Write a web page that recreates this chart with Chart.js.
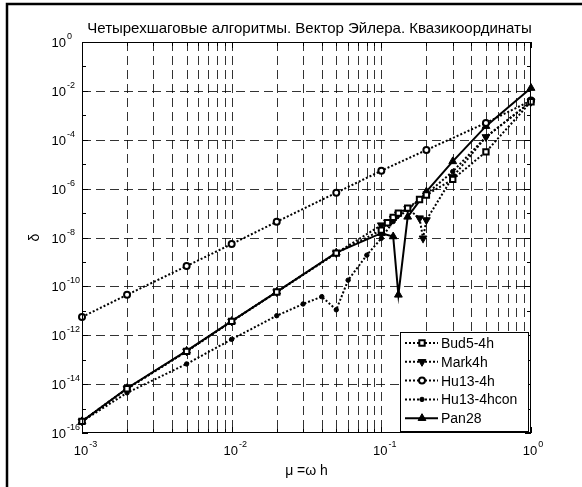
<!DOCTYPE html>
<html>
<head>
<meta charset="utf-8">
<script src="https://cdn.jsdelivr.net/npm/chart.js@4.4.1/dist/chart.umd.min.js"></script>
<style>
  html, body { margin: 0; padding: 0; background: #fff; }
  #wrap { width: 582px; height: 487px; position: relative; }
</style>
</head>
<body>
<div id="wrap"><canvas id="errChart"></canvas></div>
<script>
// ---- labels ----
const TITLE = 'Четырехшаговые алгоритмы. Вектор Эйлера. Квазикоординаты';
const X_TITLE = 'μ =ω h';
const Y_TITLE = 'δ';

// ---- axis ticks ----
const X_MAJOR = [1e-3, 1e-2, 1e-1, 1];
const X_MAJOR_EXP = ['-3', '-2', '-1', '0'];
const X_MINOR = [2e-3, 3e-3, 4e-3, 5e-3, 6e-3, 7e-3, 8e-3, 9e-3,
                 2e-2, 3e-2, 4e-2, 5e-2, 6e-2, 7e-2, 8e-2, 9e-2,
                 0.2, 0.3, 0.4, 0.5, 0.6, 0.7, 0.8, 0.9];
const Y_MAJOR = [1e0, 1e-2, 1e-4, 1e-6, 1e-8, 1e-10, 1e-12, 1e-14, 1e-16];
const Y_MAJOR_EXP = ['0', '-2', '-4', '-6', '-8', '-10', '-12', '-14', '-16'];
const Y_MINOR = [1e-1, 1e-3, 1e-5, 1e-7, 1e-9, 1e-11, 1e-13, 1e-15];

// ---- series ----
const bud_x = [1e-3, 2e-3, 5e-3, 1e-2, 2e-2, 5e-2, 0.1, 0.11, 0.12, 0.13, 0.15, 0.18, 0.2, 0.3, 0.5, 1];
const bud_y = [3e-16, 6.5e-15, 2.2e-13, 3.7e-12, 5.9e-11, 2.3e-9, 2e-8, 4e-8, 6.7e-8, 1e-7, 1.6e-7, 3.6e-7, 5.5e-7, 2.4e-6, 3.2e-5, 3.6e-3];

const mark_x = [1e-3, 2e-3, 5e-3, 1e-2, 2e-2, 5e-2, 0.1, 0.11, 0.12, 0.13, 0.15, 0.18, 0.19, 0.2, 0.3, 0.5, 1];
const mark_y = [3e-16, 6.5e-15, 2.2e-13, 3.7e-12, 5.9e-11, 2.3e-9, 3.2e-8, 4.2e-8, 6e-8, 9e-8, 1.5e-7, 6.2e-8, 9.3e-9, 5.2e-8, 3e-6, 1.3e-4, 3.6e-3];

const hu_x = [1e-3, 2e-3, 5e-3, 1e-2, 2e-2, 5e-2, 0.1, 0.2, 0.5, 1];
const hu_y = [5.6e-12, 4.5e-11, 6.8e-10, 5.4e-9, 4.4e-8, 6.8e-7, 5.4e-6, 3.8e-5, 4.9e-4, 4e-3];

const hucon_x = [1e-3, 2e-3, 5e-3, 1e-2, 2e-2, 0.03, 0.04, 0.05, 0.06, 0.08, 0.1, 0.12, 0.15, 0.2, 0.3, 0.5, 1];
const hucon_y = [3e-16, 4.4e-15, 6.7e-14, 6.8e-13, 6.3e-12, 1.9e-11, 3.8e-11, 1.1e-11, 1.8e-10, 1.9e-9, 9.3e-9, 4.5e-8, 1.4e-7, 6e-7, 5e-6, 1.3e-4, 3.6e-3];

const pan_x = [1e-3, 2e-3, 5e-3, 1e-2, 2e-2, 5e-2, 0.1, 0.12, 0.13, 0.15, 0.2, 0.3, 0.5, 1];
const pan_y = [3e-16, 6.8e-15, 2.3e-13, 3.8e-12, 6e-11, 2.4e-9, 1.5e-8, 1.1e-8, 4.5e-11, 7e-8, 7.5e-7, 1.3e-5, 3.6e-4, 1.3e-2];

const FONT = "'Liberation Sans', Arial, sans-serif";

const zip = (xs, ys) => xs.map((x, i) => ({ x: x, y: ys[i] }));

function series(label, xs, ys, style) {
  return Object.assign({
    label: label,
    data: zip(xs, ys),
    borderColor: '#000',
    borderWidth: 2,
    borderDash: [2, 2],
    pointBorderColor: '#000',
    pointBackgroundColor: '#fff',
    pointBorderWidth: 2,
    pointRadius: 3,
    tension: 0,
    fill: false,
    clip: false
  }, style);
}

const datasets = [
  series('Bud5-4h', bud_x, bud_y, { pointStyle: 'rect', pointRadius: 3.8 }),
  series('Mark4h', mark_x, mark_y, { pointStyle: 'triangle', rotation: 180, pointBackgroundColor: '#000', pointRadius: 4.5, pointBorderWidth: 1 }),
  series('Hu13-4h', hu_x, hu_y, { pointStyle: 'circle', pointRadius: 3 }),
  series('Hu13-4hcon', hucon_x, hucon_y, { pointStyle: 'circle', pointBackgroundColor: '#000', pointRadius: 2.2, pointBorderWidth: 1 }),
  series('Pan28', pan_x, pan_y, { borderDash: [], pointStyle: 'triangle', pointBackgroundColor: '#000', pointRadius: 4.5, pointBorderWidth: 1 })
];

// marker for the legend, same shapes as the chart points
function marker(ctx, ds, x, y) {
  const r = ds.pointRadius;
  ctx.save();
  ctx.setLineDash([]);
  ctx.lineWidth = ds.pointBorderWidth;
  ctx.strokeStyle = ds.pointBorderColor;
  ctx.fillStyle = ds.pointBackgroundColor;
  ctx.beginPath();
  if (ds.pointStyle === 'rect') {
    const s = r * Math.SQRT1_2;
    ctx.rect(x - s, y - s, 2 * s, 2 * s);
  } else if (ds.pointStyle === 'circle') {
    ctx.arc(x, y, r, 0, Math.PI * 2);
  } else {
    const dir = ds.rotation === 180 ? -1 : 1;
    const w = r * Math.sqrt(3) / 2;
    ctx.moveTo(x, y - dir * r);
    ctx.lineTo(x - w, y + dir * r / 2);
    ctx.lineTo(x + w, y + dir * r / 2);
    ctx.closePath();
  }
  ctx.fill();
  ctx.stroke();
  ctx.restore();
}

const matlabFrame = {
  id: 'matlabFrame',
  beforeDatasetsDraw(chart) {
    const { ctx, chartArea: a, scales: { x, y } } = chart;
    ctx.save();
    ctx.strokeStyle = 'rgba(0,0,0,0.8)';
    ctx.lineWidth = 1;
    ctx.setLineDash([9, 5]);
    X_MAJOR.concat(X_MINOR).forEach(v => {
      const px = Math.round(x.getPixelForValue(v)) + 0.5;
      if (px <= a.left + 1 || px >= a.right - 1) return;
      ctx.beginPath(); ctx.moveTo(px, a.top); ctx.lineTo(px, a.bottom); ctx.stroke();
    });
    Y_MAJOR.forEach(v => {
      const py = Math.round(y.getPixelForValue(v)) + 0.5;
      if (py <= a.top + 1 || py >= a.bottom - 1) return;
      ctx.beginPath(); ctx.moveTo(a.left, py); ctx.lineTo(a.right, py); ctx.stroke();
    });
    ctx.restore();
  },
  afterDatasetsDraw(chart) {
    const { ctx, chartArea: a, scales: { x, y } } = chart;
    ctx.save();
    ctx.setLineDash([]);
    ctx.strokeStyle = '#000';
    ctx.lineWidth = 1;

    // figure frame (left and top edges show in the picture)
    ctx.save();
    ctx.lineWidth = 2.5;
    ctx.beginPath();
    ctx.moveTo(7, 490); ctx.lineTo(7, 4); ctx.lineTo(590, 4);
    ctx.stroke();
    ctx.restore();

    // axes box
    ctx.strokeRect(a.left + 0.5, a.top + 0.5, a.right - a.left - 1, a.bottom - a.top - 1);

    // inward ticks on all four sides
    const tickX = (v, len) => {
      const px = Math.round(x.getPixelForValue(v)) + 0.5;
      ctx.beginPath();
      ctx.moveTo(px, a.bottom); ctx.lineTo(px, a.bottom - len);
      ctx.moveTo(px, a.top); ctx.lineTo(px, a.top + len);
      ctx.stroke();
    };
    const tickY = (v, len) => {
      const py = Math.round(y.getPixelForValue(v)) + 0.5;
      ctx.beginPath();
      ctx.moveTo(a.left, py); ctx.lineTo(a.left + len, py);
      ctx.moveTo(a.right, py); ctx.lineTo(a.right - len, py);
      ctx.stroke();
    };
    X_MAJOR.forEach(v => tickX(v, 6));
    X_MINOR.forEach(v => tickX(v, 4));
    Y_MAJOR.forEach(v => tickY(v, 6));
    Y_MINOR.forEach(v => tickY(v, 4));

    // tick labels: "10" with raised exponent
    ctx.fillStyle = '#000';
    ctx.textBaseline = 'alphabetic';
    X_MAJOR.forEach((v, i) => {
      const px = x.getPixelForValue(v);
      ctx.font = '13px ' + FONT;
      const w = ctx.measureText('10').width;
      ctx.textAlign = 'left';
      ctx.fillText('10', px - w / 2 - 1, a.bottom + 22);
      ctx.font = '9px ' + FONT;
      ctx.fillText(X_MAJOR_EXP[i], px + w / 2, a.bottom + 14);
    });
    Y_MAJOR.forEach((v, i) => {
      const py = y.getPixelForValue(v);
      ctx.font = '13px ' + FONT;
      ctx.textAlign = 'right';
      ctx.fillText('10', a.left - 16, py + 5);
      ctx.font = '9px ' + FONT;
      ctx.textAlign = 'left';
      ctx.fillText(Y_MAJOR_EXP[i], a.left - 15, py - 3);
    });

    // titles
    ctx.font = '15px ' + FONT;
    ctx.textAlign = 'center';
    ctx.fillText(TITLE, (a.left + a.right) / 2 + 3, 33);
    ctx.font = '14px ' + FONT;
    ctx.fillText(X_TITLE, (a.left + a.right) / 2, 475);
    ctx.save();
    ctx.translate(39, (a.top + a.bottom) / 2);
    ctx.rotate(-Math.PI / 2);
    ctx.fillText(Y_TITLE, 0, 0);
    ctx.restore();

    // legend box, bottom-right inside axes
    const lw = 128, lh = 99;
    const lx = a.right - 3 - lw, ly = a.bottom - 2 - lh;
    ctx.fillStyle = '#fff';
    ctx.fillRect(lx, ly, lw, lh);
    ctx.strokeStyle = '#000';
    ctx.lineWidth = 1;
    ctx.strokeRect(lx + 0.5, ly + 0.5, lw, lh);
    chart.data.datasets.forEach((ds, i) => {
      const cy = ly + 11 + i * 18.8;
      ctx.save();
      ctx.strokeStyle = '#000';
      ctx.lineWidth = ds.borderWidth;
      ctx.setLineDash(ds.borderDash || []);
      ctx.beginPath(); ctx.moveTo(lx + 5, cy); ctx.lineTo(lx + 38, cy); ctx.stroke();
      ctx.restore();
      marker(ctx, ds, lx + 22, cy);
      ctx.fillStyle = '#000';
      ctx.font = '14px ' + FONT;
      ctx.textAlign = 'left';
      ctx.fillText(ds.label, lx + 41, cy + 5);
    });
    ctx.restore();
  }
};

const bgWhite = {
  id: 'bgWhite',
  beforeDraw(chart) {
    const { ctx, width, height } = chart;
    ctx.save();
    ctx.fillStyle = '#fff';
    ctx.fillRect(0, 0, width, height);
    ctx.restore();
  }
};

new Chart(document.getElementById('errChart'), {
  type: 'line',
  data: { datasets: datasets },
  options: {
    responsive: true,
    maintainAspectRatio: false,
    animation: false,
    layout: { padding: { left: 82, top: 42, right: 51, bottom: 54 } },
    plugins: { legend: { display: false }, tooltip: { enabled: false }, title: { display: false } },
    scales: {
      x: { type: 'logarithmic', min: 1e-3, max: 1, display: false },
      y: { type: 'logarithmic', min: 1e-16, max: 1, display: false }
    }
  },
  plugins: [bgWhite, matlabFrame]
});
</script>
</body>
</html>
